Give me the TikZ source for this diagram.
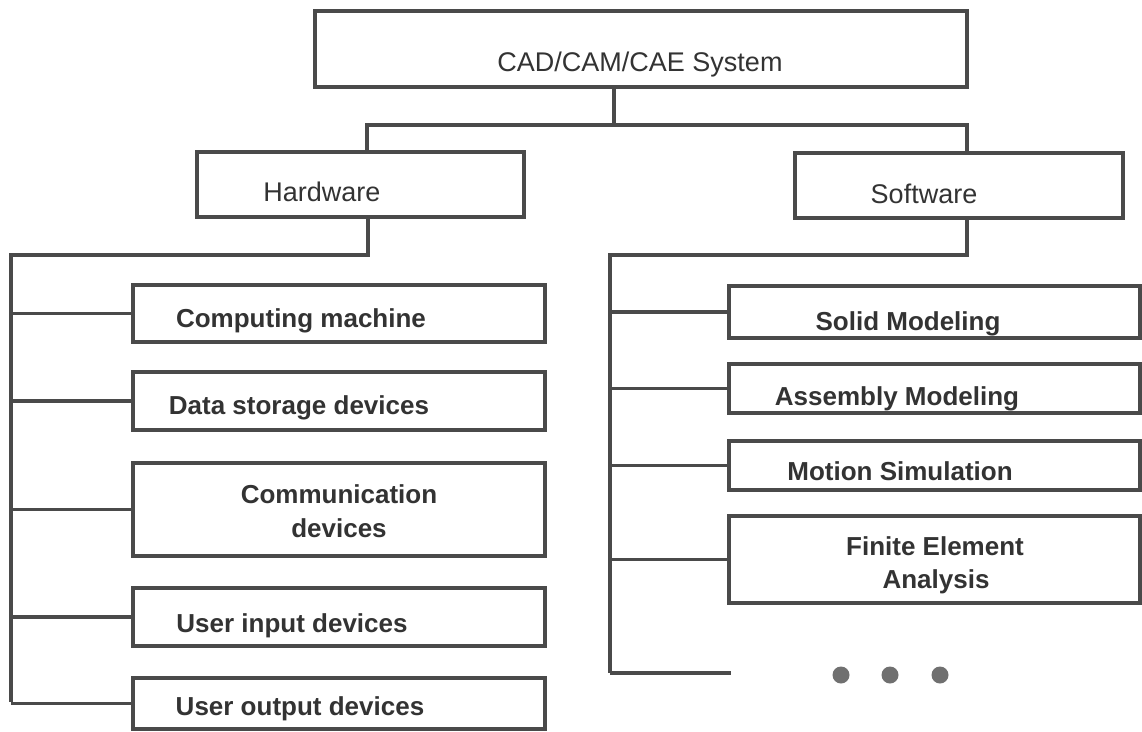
\documentclass[tikz,border=0pt]{standalone}
\usepackage{fontspec}
\setmainfont{Liberation Sans}
\definecolor{linec}{HTML}{4A4A4A}
\definecolor{txtc}{HTML}{333333}
\definecolor{dotc}{HTML}{707070}
\begin{document}
\begin{tikzpicture}[x=1pt,y=-1pt,
  box/.style={draw=linec, line width=3.4pt, inner sep=0pt, fill=white},
  conn/.style={draw=linec, line width=3.4pt},
  lbl/.style={text=txtc, anchor=base, inner sep=0pt, font=\fontsize{27}{32}\selectfont},
  lblb/.style={text=txtc, anchor=base, inner sep=0pt, font=\fontsize{26}{32}\selectfont\bfseries},
  dotnode/.style={circle, fill=dotc, minimum size=17pt, inner sep=0pt}]
\fill[white] (0,0) rectangle (1142,731);
\useasboundingbox (0,0) rectangle (1142,731);

% boxes
\node[box, minimum width=652pt, minimum height=76pt] (top) at (641,49) {};
\node[box, minimum width=327pt, minimum height=65pt] (hw) at (360.5,184.5) {};
\node[box, minimum width=328pt, minimum height=65pt] (sw) at (959,185.5) {};

\node[box, minimum width=412pt, minimum height=57pt] (cm) at (339,313.5) {};
\node[box, minimum width=412pt, minimum height=58pt] (ds) at (339,401) {};
\node[box, minimum width=412pt, minimum height=93pt] (cd) at (339,509.5) {};
\node[box, minimum width=412pt, minimum height=58pt] (ui) at (339,617) {};
\node[box, minimum width=412pt, minimum height=51pt] (uo) at (339,703.5) {};

\node[box, minimum width=411pt, minimum height=52pt] (sm) at (934.5,312) {};
\node[box, minimum width=411pt, minimum height=49pt] (am) at (934.5,388.5) {};
\node[box, minimum width=411pt, minimum height=49pt] (ms) at (934.5,465.5) {};
\node[box, minimum width=411pt, minimum height=87pt] (fe) at (934.5,559.5) {};

% labels
\node[lbl] (tTop) at (640,71) {CAD/CAM/CAE System};
\node[lbl] (tHw) at (322,201) {Hardware};
\node[lbl] (tSw) at (924,203) {Software};

\node[lblb] (tCm) at (301,327) {Computing machine};
\node[lblb] (tDs) at (299,414) {Data storage devices};
\node[lblb] (tCd1) at (339,503) {Communication};
\node[lblb] (tCd2) at (339,537) {devices};
\node[lblb] (tUi) at (292,632) {User input devices};
\node[lblb] (tUo) at (300,715) {User output devices};

\node[lblb] (tSm) at (908,330) {Solid Modeling};
\node[lblb] (tAm) at (897,405) {Assembly Modeling};
\node[lblb] (tMs) at (900,480) {Motion Simulation};
\node[lblb] (tFe1) at (935,555) {Finite Element};
\node[lblb] (tFe2) at (936,588) {Analysis};

% top connectors
\coordinate (tj) at (614,125);
\coordinate (hs) at (367,125);
\coordinate (ss) at (967,125);
\draw[conn] (top.south -| tj) -- (tj);
\draw[conn] (hw.north -| hs) -- (hs) -- (ss) -- (sw.north -| ss);

% hardware tree
\coordinate (hb) at (368,255);
\coordinate (hl) at (11,255);
\coordinate (hend) at (11,702);
\draw[conn] (hw.south -| hb) -- (hb) -- (hl) -- (hend);
\draw[conn] (hl |- cm.west) -- (cm.west);
\draw[conn] (hl |- ds.west) -- (ds.west);
\draw[conn] (hl |- cd.west) -- (cd.west);
\draw[conn] (hl |- ui.west) -- (ui.west);
\draw[conn] (hl |- uo.west) -- (uo.west);

% software tree
\coordinate (sb) at (967,255);
\coordinate (sl) at (610,255);
\coordinate (send) at (610,673);
\draw[conn] (sw.south -| sb) -- (sb) -- (sl) -- (send);
\draw[conn] (sl |- sm.west) -- (sm.west);
\draw[conn] (sl |- am.west) -- (am.west);
\draw[conn] (sl |- ms.west) -- (ms.west);
\draw[conn] (sl |- fe.west) -- (fe.west);
\coordinate (dend) at (731,673);
\draw[conn] (send) -- (dend);

% dots
\node[dotnode] (d1) at (841,675) {};
\node[dotnode] (d2) at (890,675) {};
\node[dotnode] (d3) at (940,675) {};
\end{tikzpicture}
\end{document}
